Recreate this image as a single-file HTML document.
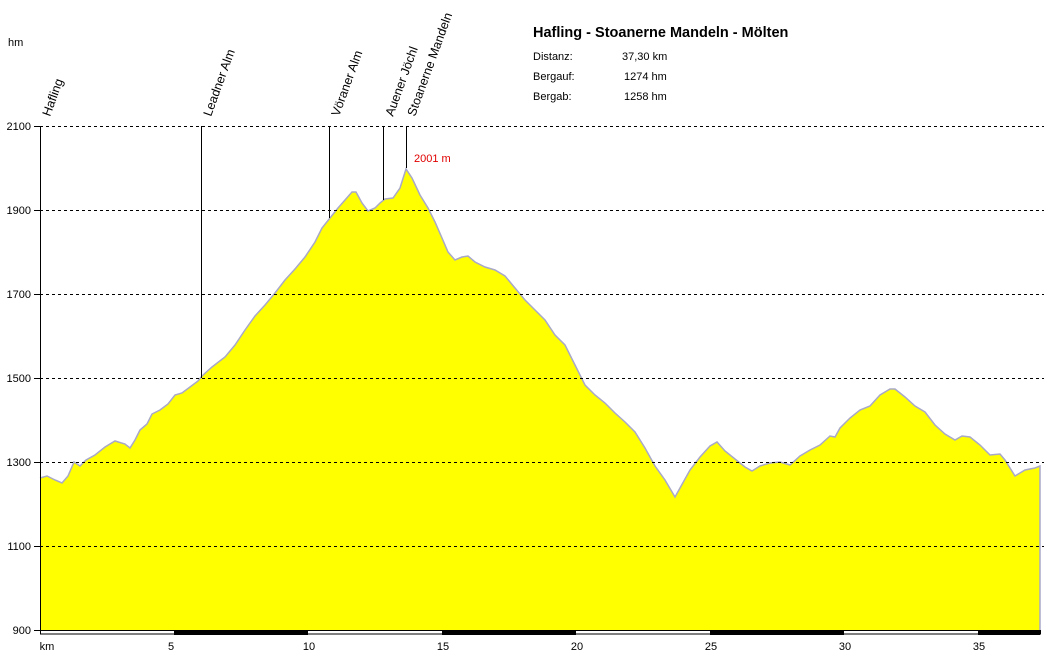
<!DOCTYPE html>
<html><head><meta charset="utf-8"><style>
html,body{margin:0;padding:0;background:#fff}
svg{display:block}
text{font-family:"Liberation Sans",Arial,sans-serif;font-size:11px;fill:#000}
.r{font-size:12.5px}
</style></head><body>
<svg width="1044" height="653" viewBox="0 0 1044 653">
<polygon fill="#ffff00" stroke="none" points="40,630 40,478 47,476 55,480 62,483 68,476 74,462 80,466 86,460 95,455 105,447 115,441 125,444 130,448 135,440 140,430 147,424 152,414 160,410 168,404 175,395 182,393 190,387 198,381 202,376 212,367 225,357 235,345 245,330 255,316 265,305 275,293 285,280 295,269 305,257 315,242 322,228 330,218 338,208 345,200 352,192 356,192 362,203 368,211 375,208 380,203 385,199 393,198 400,188 406,169 412,178 420,195 428,208 435,222 442,238 448,252 455,260 462,257 468,256 475,262 485,267 495,270 505,276 515,288 525,300 535,310 545,320 555,335 565,345 575,365 585,385 595,395 605,403 615,413 625,422 635,432 645,448 655,466 665,480 675,497 680,488 690,470 700,457 710,446 717,442 725,451 735,459 745,467 752,471 760,466 770,463 780,462 790,465 800,456 810,450 820,445 830,436 835,437 840,428 850,418 860,410 870,406 880,395 890,389 895,389 905,397 915,406 925,412 935,425 945,434 955,440 962,436 970,437 980,445 990,455 1000,454 1005,460 1015,476 1025,470 1035,468 1040,466 1040,630"/>
<polyline fill="none" stroke="#a8a8c8" stroke-width="1.5" points="40,478 47,476 55,480 62,483 68,476 74,462 80,466 86,460 95,455 105,447 115,441 125,444 130,448 135,440 140,430 147,424 152,414 160,410 168,404 175,395 182,393 190,387 198,381 202,376 212,367 225,357 235,345 245,330 255,316 265,305 275,293 285,280 295,269 305,257 315,242 322,228 330,218 338,208 345,200 352,192 356,192 362,203 368,211 375,208 380,203 385,199 393,198 400,188 406,169 412,178 420,195 428,208 435,222 442,238 448,252 455,260 462,257 468,256 475,262 485,267 495,270 505,276 515,288 525,300 535,310 545,320 555,335 565,345 575,365 585,385 595,395 605,403 615,413 625,422 635,432 645,448 655,466 665,480 675,497 680,488 690,470 700,457 710,446 717,442 725,451 735,459 745,467 752,471 760,466 770,463 780,462 790,465 800,456 810,450 820,445 830,436 835,437 840,428 850,418 860,410 870,406 880,395 890,389 895,389 905,397 915,406 925,412 935,425 945,434 955,440 962,436 970,437 980,445 990,455 1000,454 1005,460 1015,476 1025,470 1035,468 1040,466 1040,630"/>
<g stroke="#000" stroke-dasharray="3,3" stroke-width="1">
<line x1="40" y1="126.5" x2="1044" y2="126.5"/><line x1="40" y1="210.5" x2="1044" y2="210.5"/><line x1="40" y1="294.5" x2="1044" y2="294.5"/><line x1="40" y1="378.5" x2="1044" y2="378.5"/><line x1="40" y1="462.5" x2="1044" y2="462.5"/><line x1="40" y1="546.5" x2="1044" y2="546.5"/>
</g>
<g stroke="#000" stroke-width="1">
<line x1="34" y1="126.5" x2="40" y2="126.5"/><line x1="34" y1="210.5" x2="40" y2="210.5"/><line x1="34" y1="294.5" x2="40" y2="294.5"/><line x1="34" y1="378.5" x2="40" y2="378.5"/><line x1="34" y1="462.5" x2="40" y2="462.5"/><line x1="34" y1="546.5" x2="40" y2="546.5"/><line x1="34" y1="630.5" x2="40" y2="630.5"/>
<line x1="40.5" y1="126" x2="40.5" y2="630"/>
<line x1="201.5" y1="126" x2="201.5" y2="378"/>
<line x1="329.5" y1="126" x2="329.5" y2="218"/>
<line x1="383.5" y1="126" x2="383.5" y2="200"/>
<line x1="406.5" y1="126" x2="406.5" y2="168"/>
</g>
<rect x="40.5" y="630.5" width="1000" height="3.5" fill="#fff" stroke="#000"/>
<g fill="#000"><rect x="174" y="630" width="134" height="5"/><rect x="442" y="630" width="134" height="5"/><rect x="710" y="630" width="134" height="5"/><rect x="978" y="630" width="62" height="5"/></g>
<g text-anchor="end"><text x="31" y="130">2100</text><text x="31" y="214">1900</text><text x="31" y="298">1700</text><text x="31" y="382">1500</text><text x="31" y="466">1300</text><text x="31" y="550">1100</text><text x="31" y="634">900</text></g>
<text x="8" y="46">hm</text>
<g text-anchor="middle"><text x="47" y="650">km</text><text x="171" y="650">5</text><text x="309" y="650">10</text><text x="443" y="650">15</text><text x="577" y="650">20</text><text x="711" y="650">25</text><text x="845" y="650">30</text><text x="979" y="650">35</text></g>
<text class="r" transform="translate(50,117) rotate(-70)">Hafling</text>
<text class="r" transform="translate(211,117) rotate(-70)">Leadner Alm</text>
<text class="r" transform="translate(339,117) rotate(-70)">Vöraner Alm</text>
<text class="r" transform="translate(393,117) rotate(-70)">Auener Jöchl</text>
<text class="r" transform="translate(415,117) rotate(-70)">Stoanerne Mandeln</text>
<text x="414" y="162" style="fill:#e00000">2001 m</text>
<text x="533" y="37" style="font-size:14.5px;font-weight:bold">Hafling - Stoanerne Mandeln - Mölten</text>
<text x="533" y="60">Distanz:</text><text x="622" y="60">37,30 km</text>
<text x="533" y="80">Bergauf:</text><text x="624" y="80">1274 hm</text>
<text x="533" y="100">Bergab:</text><text x="624" y="100">1258 hm</text>
</svg>
</body></html>
